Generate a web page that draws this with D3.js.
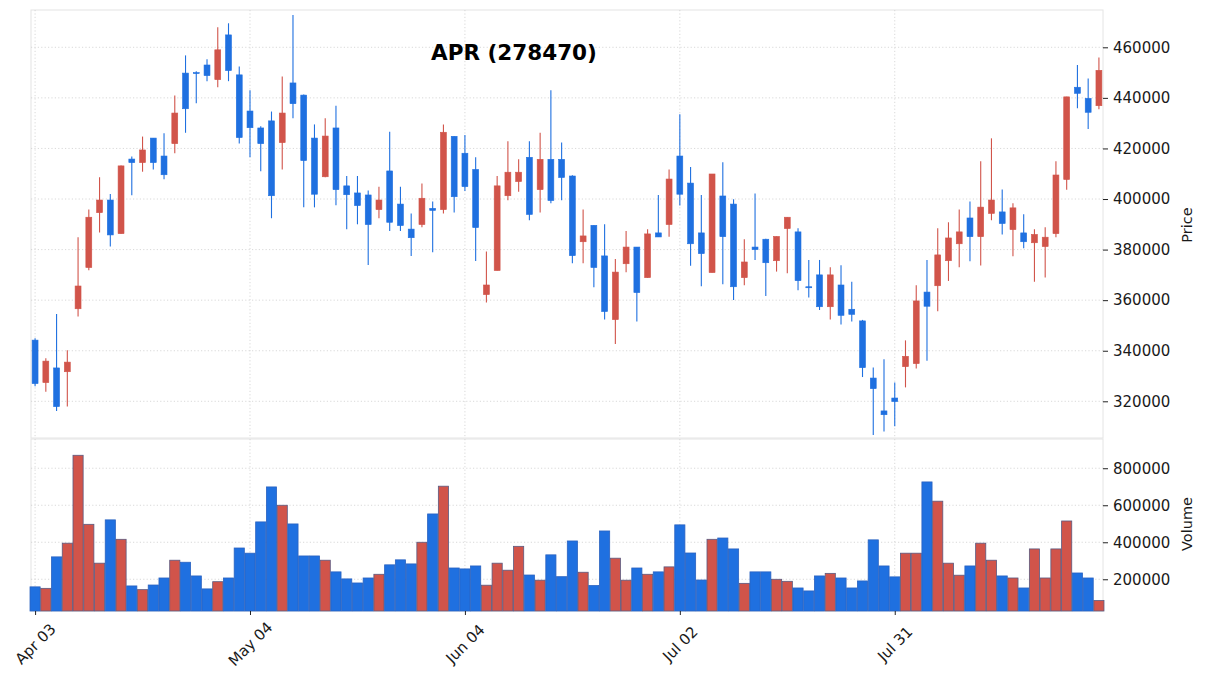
<!DOCTYPE html>
<html><head><meta charset="utf-8">
<script src="https://cdn.jsdelivr.net/npm/d3@7/dist/d3.min.js"></script>
<style>
html,body{margin:0;padding:0;background:#fff;}
svg text{font-family:"DejaVu Sans",sans-serif;}
</style></head>
<body>
<svg id="chart" width="1206" height="683"></svg>
<script>
const title = "APR (278470)";
const opens  = [344200,327400,333200,331700,356600,372900,394600,399600,386300,415800,414400,424100,417000,421900,449800,450000,453000,447200,464900,449100,434800,428100,430900,422300,445900,441100,424100,408800,428100,405200,402400,401600,395800,411100,398000,388100,389900,396300,395800,424800,418100,411700,362200,371700,401300,406900,416500,403700,415700,415700,409100,383100,389600,377500,352300,374400,381000,368900,386600,389900,417000,406300,386600,370900,401200,398000,368900,381000,384100,375600,388300,387000,365300,370000,357400,366000,356400,351800,329200,316200,321300,333700,334900,363200,365700,375600,382300,392500,385100,394300,394900,387900,386600,382700,381200,386300,407700,444200,439800,436900];
const highs  = [344900,337000,354500,340200,384900,395900,408600,402000,413300,416800,424700,424100,426000,440900,456800,450500,455300,467900,469500,452400,443000,428800,434600,448500,472800,441300,429500,431900,436900,409100,409100,403400,404900,426600,404900,394300,406100,399000,429500,424800,425300,416500,379200,409100,422800,415700,422800,426200,443000,422400,409400,395900,389600,390000,376300,387400,381000,388000,401600,411700,433500,412700,401600,409900,414500,399900,384100,402200,384300,385200,392800,388400,375900,375900,373000,373800,367300,352200,333400,336600,327400,344100,365900,375900,388400,390800,395900,399000,414900,424000,403800,398300,394000,388000,388800,414900,440400,453000,447700,456000];
const lows   = [326000,323800,316200,317900,353500,371800,386800,381200,386300,401500,410800,411700,407800,418100,426200,437900,446600,444200,446600,422000,416500,411000,392400,411700,431900,396700,396700,408600,397500,388000,390000,373900,392400,387400,387400,377500,388800,378900,394300,394700,403200,375500,359100,371700,399500,402900,391600,394700,398300,399500,374600,374600,365100,352400,342700,371000,351600,368900,385000,385100,397400,373600,365500,370900,366300,360100,365900,375900,361600,371300,370600,363900,361100,356100,352400,350400,351600,329600,306700,308100,310100,325500,333000,336000,355600,367600,373000,375400,373700,391600,386000,377400,380500,367300,369000,384900,403700,435900,427700,435500];
const closes = [327000,335900,317900,335500,365600,392800,399600,385800,413100,414400,419400,414400,409600,434000,435700,449700,448800,459000,450800,424300,428200,421900,401300,434000,437700,415200,401900,424900,403700,401700,397400,389900,399600,390800,389500,384700,400300,395500,426400,400900,404900,388700,366000,405200,410600,410600,393900,415700,399400,408500,377600,385400,372900,355500,371100,381000,363000,386200,385000,407900,401900,382300,378400,409900,385100,365300,375100,380000,374800,385200,392800,367700,365100,357400,370000,354000,354400,333300,325000,314700,319900,337800,359700,357600,377900,384600,387000,385100,396800,399600,390300,396500,383100,386000,384900,409500,440400,441800,434300,450900];
const volumes= [159000,151000,321000,395000,870000,497000,287000,521000,416000,164000,144000,169000,207000,303000,292000,218000,148000,187000,207000,369000,341000,510000,699000,600000,499000,326000,326000,303000,240000,202000,180000,207000,227000,278000,305000,283000,400000,553000,703000,261000,256000,272000,168000,287000,249000,378000,223000,195000,332000,214000,407000,238000,166000,461000,314000,195000,261000,227000,240000,267000,494000,342000,196000,416000,423000,364000,178000,240000,240000,200000,189000,153000,137000,218000,232000,207000,153000,191000,413000,272000,213000,341000,341000,726000,622000,287000,222000,272000,395000,303000,218000,207000,153000,364000,207000,364000,515000,234000,207000,85000];
const xTickIdx = [0,20,40,60,80];
const xTickLabels = ["Apr 03","May 04","Jun 04","Jul 02","Jul 31"];
const priceTicks = [320000,340000,360000,380000,400000,420000,440000,460000];
const volumeTicks = [200000,400000,600000,800000];

const UP = "#d1544a", DOWN = "#1f70e0";
const svg = d3.select("#chart");
const L = 31, R = 1103;
const pTop = 10, pBot = 438, vTop = 439, vBot = 611;
const n = opens.length;
const x = d3.scaleLinear().domain([-0.38, n - 1 + 0.38]).range([L, R]);
const yP = d3.scaleLinear().domain([305490, 474750]).range([pBot, pTop]);
const yV = d3.scaleLinear().domain([28600, 958000]).range([vBot, vTop]);
const step = x(1) - x(0);
const data = d3.range(n).map(i => ({i, o: opens[i], h: highs[i], l: lows[i], c: closes[i], v: volumes[i]}));
const col = d => d.c >= d.o ? UP : DOWN;

// frames
svg.append("rect").attr("x", L).attr("y", pTop).attr("width", R - L).attr("height", pBot - pTop)
  .attr("fill", "none").attr("stroke", "#e4e4e4");
svg.append("rect").attr("x", L).attr("y", vTop).attr("width", R - L).attr("height", vBot - vTop)
  .attr("fill", "none").attr("stroke", "#e4e4e4");

const grid = svg.append("g").attr("stroke", "#cfcfcf").attr("stroke-width", 0.8).attr("stroke-dasharray", "1.2,2.2");
grid.selectAll(".hp").data(priceTicks).join("line").attr("x1", L).attr("x2", R)
  .attr("y1", d => yP(d)).attr("y2", d => yP(d));
grid.selectAll(".hv").data(volumeTicks).join("line").attr("class","hv").attr("x1", L).attr("x2", R)
  .attr("y1", d => yV(d)).attr("y2", d => yV(d));
grid.selectAll(".vp").data(xTickIdx).join("line").attr("class","vp").attr("y1", pTop).attr("y2", pBot)
  .attr("x1", d => x(d)).attr("x2", d => x(d));
grid.selectAll(".vv").data(xTickIdx).join("line").attr("class","vv").attr("y1", vTop).attr("y2", vBot)
  .attr("x1", d => x(d)).attr("x2", d => x(d));

// candles
const cg = svg.append("g");
cg.selectAll("line.w").data(data).join("line").attr("class", "w")
  .attr("x1", d => x(d.i)).attr("x2", d => x(d.i))
  .attr("y1", d => yP(d.h)).attr("y2", d => yP(d.l))
  .attr("stroke", col).attr("stroke-width", 1.1);
const bw = step * 0.55;
cg.selectAll("rect.b").data(data).join("rect").attr("class", "b")
  .attr("x", d => x(d.i) - bw / 2).attr("width", bw)
  .attr("y", d => yP(Math.max(d.o, d.c)))
  .attr("height", d => Math.max(1, Math.abs(yP(d.o) - yP(d.c))))
  .attr("fill", col).attr("stroke", col).attr("stroke-width", 0.6);

// volume
const vg = svg.append("g");
vg.selectAll("rect").data(data).join("rect")
  .attr("x", d => x(d.i) - step / 2 + 0.3).attr("width", step - 0.6)
  .attr("y", d => yV(d.v)).attr("height", d => vBot - yV(d.v))
  .attr("fill", col)
  .attr("stroke", d => d.c >= d.o ? "#5a5a80" : "#2a62c0").attr("stroke-width", 0.8);

// axes
const styleAxis = g => {
  g.select(".domain").remove();
  g.selectAll(".tick line").attr("stroke", "#222");
  g.selectAll(".tick text").attr("fill", "#1a1a1a").style("font-size", "15px").style("font-family", "DejaVu Sans");
};
svg.append("g").attr("transform", `translate(${R},0)`)
  .call(d3.axisRight(yP).tickValues(priceTicks).tickSize(5).tickPadding(5).tickFormat(d3.format("d")))
  .call(styleAxis);
svg.append("g").attr("transform", `translate(${R},0)`)
  .call(d3.axisRight(yV).tickValues(volumeTicks).tickSize(5).tickPadding(5).tickFormat(d3.format("d")))
  .call(styleAxis);
const xa = svg.append("g").attr("transform", `translate(0,${vBot})`)
  .call(d3.axisBottom(x).tickValues(xTickIdx).tickSize(4).tickFormat((d, k) => xTickLabels[k]))
  .call(styleAxis);
xa.selectAll(".tick text")
  .attr("y", 0).attr("dy", null)
  .attr("text-anchor", "middle").attr("dominant-baseline", "central")
  .attr("transform", "translate(0,33) rotate(-45)");

// labels
svg.append("text").attr("transform", "translate(1187,225) rotate(-90)")
  .attr("text-anchor", "middle").attr("dominant-baseline", "central")
  .style("font-size", "14.5px").attr("fill", "#1a1a1a").text("Price");
svg.append("text").attr("transform", "translate(1187,524) rotate(-90)")
  .attr("text-anchor", "middle").attr("dominant-baseline", "central")
  .style("font-size", "14.5px").attr("fill", "#1a1a1a").text("Volume");
svg.append("text").attr("x", 514).attr("y", 60).attr("text-anchor", "middle")
  .style("font-size", "21.5px").style("font-weight", "bold").attr("fill", "#000").text(title);
</script>
</body></html>
